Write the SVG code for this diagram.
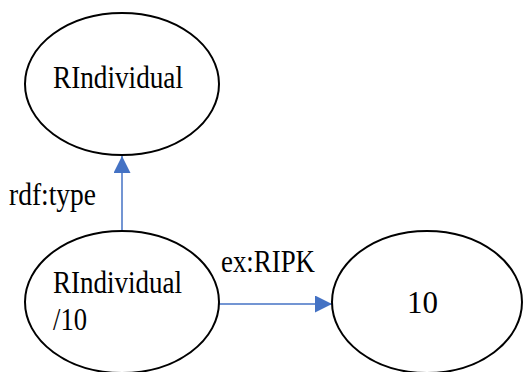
<svg xmlns="http://www.w3.org/2000/svg" width="530" height="372" viewBox="0 0 530 372">
  <style>
    .node { fill: #ffffff; stroke: #000000; stroke-width: 2; }
    .lbl { font-family: "Liberation Serif", "DejaVu Serif", "Times New Roman", serif; font-size: 31px; fill: #000000; }
    .edge { stroke: #4472c4; stroke-width: 1.5; fill: none; }
  </style>
  <defs>
    <marker id="arrow" viewBox="0 0 10 10" refX="10" refY="5" markerWidth="17" markerHeight="17" markerUnits="userSpaceOnUse" orient="auto">
      <path d="M0,0 L10,5 L0,10 z" fill="#4472c4"/>
    </marker>
  </defs>
  <rect width="530" height="372" fill="#ffffff"/>

  <g id="connectors">
    <line class="edge" x1="122" y1="230" x2="122" y2="156" marker-end="url(#arrow)"/>
    <line class="edge" x1="219" y1="304" x2="332" y2="304" marker-end="url(#arrow)"/>
    <text class="lbl" x="9" y="205" textLength="87" lengthAdjust="spacingAndGlyphs">rdf:type</text>
    <text class="lbl" x="221" y="272" textLength="94" lengthAdjust="spacingAndGlyphs">ex:RIPK</text>
  </g>

  <g id="rindividual">
    <ellipse class="node" cx="122" cy="84" rx="97" ry="71"/>
    <text class="lbl" x="53" y="88" textLength="130" lengthAdjust="spacingAndGlyphs">RIndividual</text>
  </g>

  <g id="rindividual-10">
    <ellipse class="node" cx="122" cy="302" rx="97" ry="71"/>
    <text class="lbl" x="53" y="293" textLength="129" lengthAdjust="spacingAndGlyphs">RIndividual</text>
    <text class="lbl" x="53" y="330" textLength="34" lengthAdjust="spacingAndGlyphs">/10</text>
  </g>

  <g id="value-10">
    <ellipse class="node" cx="427" cy="302" rx="95" ry="71"/>
    <text class="lbl" x="407" y="313" font-size="38" textLength="31" lengthAdjust="spacingAndGlyphs">10</text>
  </g>
</svg>
